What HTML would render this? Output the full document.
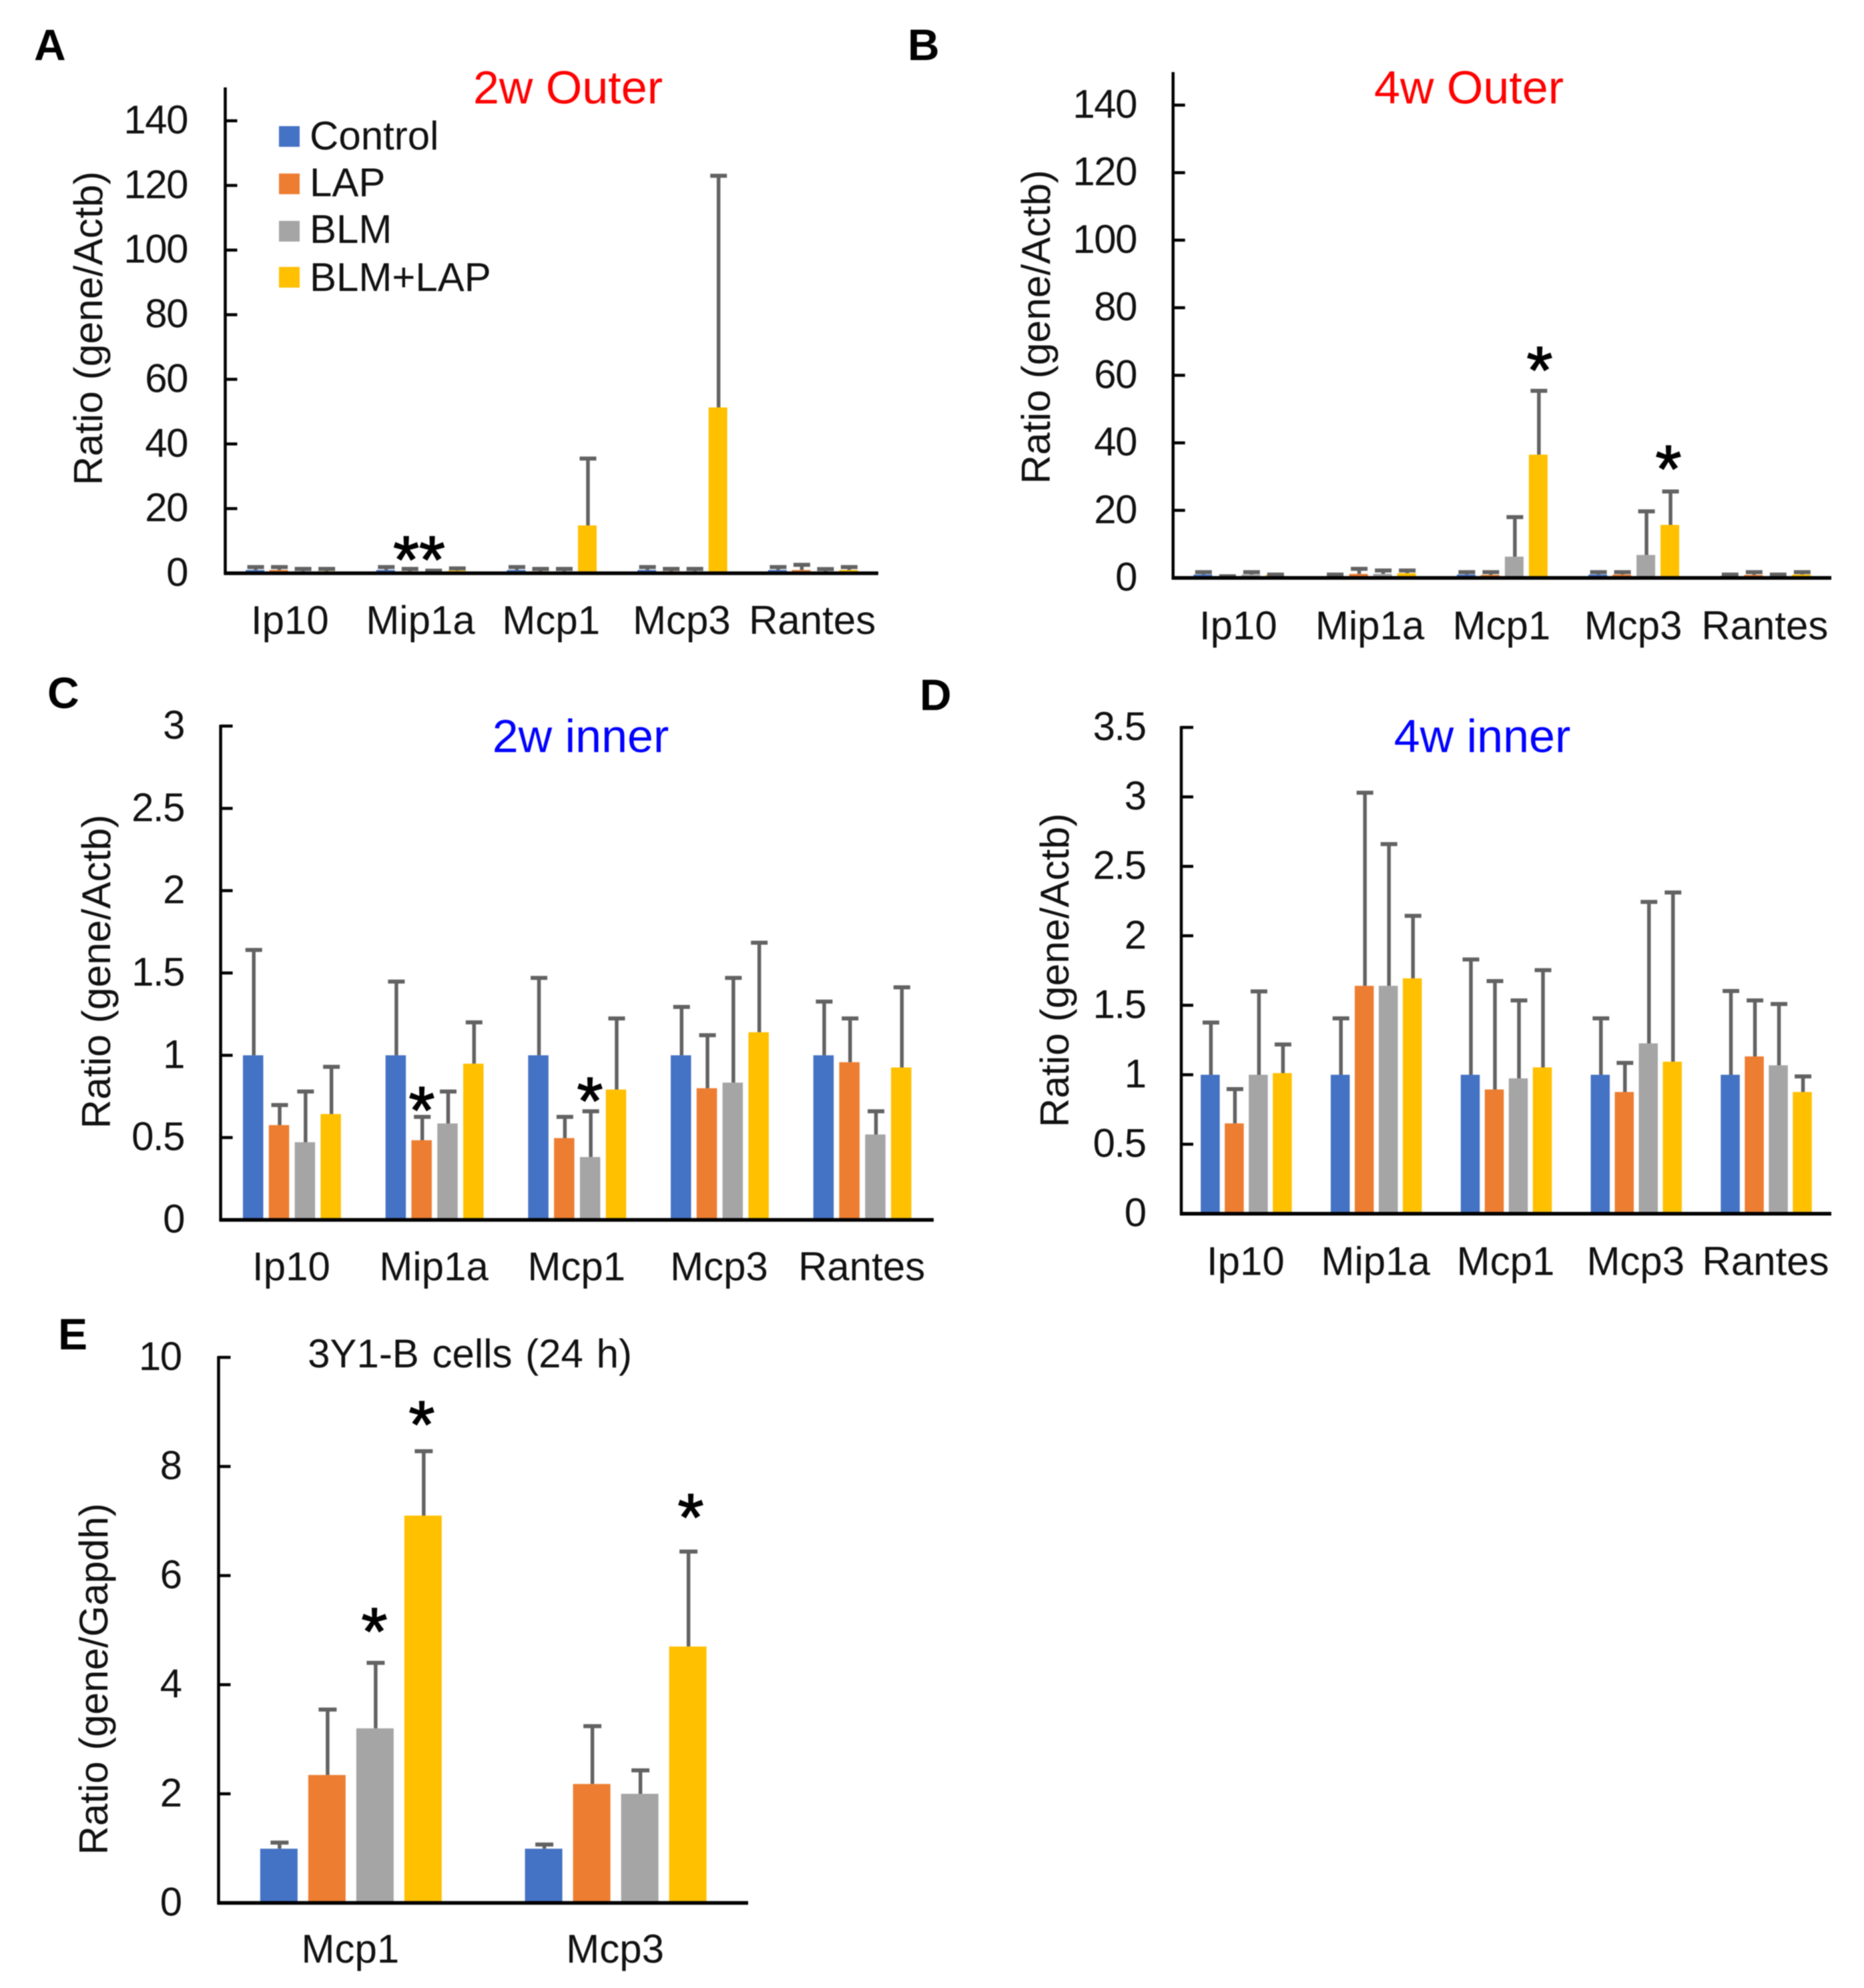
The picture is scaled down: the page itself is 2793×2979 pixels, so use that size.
<!DOCTYPE html>
<html lang="en">
<head>
<meta charset="utf-8">
<title>Chemokine expression ratios</title>
<style>
  html, body { margin: 0; padding: 0; background: #ffffff; }
  #figure { display: block; width: 2793px; height: 2979px; filter: blur(0.9px); font-family: "Liberation Sans", Arial, sans-serif; }
  text { font-family: "Liberation Sans", Arial, sans-serif; fill: #111111; }
  .star { fill: #000; stroke: #000; stroke-width: 1.6px; }
</style>
</head>
<body>
<svg id="figure" xmlns="http://www.w3.org/2000/svg" width="2793" height="2979" viewBox="0 0 2793 2979">
  <rect x="0" y="0" width="2793" height="2979" fill="#ffffff"/>

  <text x="51" y="90" font-size="66" font-weight="700" style="fill:#000">A</text>
  <text x="1360" y="90" font-size="66" font-weight="700" style="fill:#000">B</text>
  <text x="71" y="1061" font-size="66" font-weight="700" style="fill:#000">C</text>
  <text x="1378" y="1064" font-size="66" font-weight="700" style="fill:#000">D</text>
  <text x="87" y="2022" font-size="66" font-weight="700" style="fill:#000">E</text>

  <text x="851" y="155" font-size="70" text-anchor="middle" style="fill:#ff0000">2w Outer</text>
  <text x="2201" y="155" font-size="70" text-anchor="middle" style="fill:#ff0000">4w Outer</text>
  <text x="870" y="1127" font-size="70" text-anchor="middle" style="fill:#0000ff">2w inner</text>
  <text x="2221" y="1127" font-size="70" text-anchor="middle" style="fill:#0000ff">4w inner</text>
  <text x="704" y="2049" font-size="60" word-spacing="3" text-anchor="middle">3Y1-B cells (24 h)</text>

  <text font-size="60.5" text-anchor="middle" transform="translate(153 492) rotate(-90)">Ratio (gene/Actb)</text>
  <text font-size="60.5" text-anchor="middle" transform="translate(1573 490) rotate(-90)">Ratio (gene/Actb)</text>
  <text font-size="60.5" text-anchor="middle" transform="translate(165 1456) rotate(-90)">Ratio (gene/Actb)</text>
  <text font-size="60.5" text-anchor="middle" transform="translate(1601 1454) rotate(-90)">Ratio (gene/Actb)</text>
  <text font-size="60" text-anchor="middle" transform="translate(161 2516) rotate(-90)">Ratio (gene/Gapdh)</text>

  <g id="charts"></g>

  <g>
    <rect x="418" y="189" width="31" height="31" fill="#4472C4"/>
    <text x="464" y="224" font-size="60">Control</text>
    <rect x="418" y="260" width="31" height="31" fill="#ED7D31"/>
    <text x="464" y="294" font-size="60">LAP</text>
    <rect x="418" y="331" width="31" height="31" fill="#A5A5A5"/>
    <text x="464" y="364" font-size="60">BLM</text>
    <rect x="418" y="400" width="31" height="31" fill="#FFC000"/>
    <text x="464" y="436" font-size="60">BLM+LAP</text>
  </g>

  <text class="star" x="628" y="873" font-size="100" text-anchor="middle">**</text>
  <text class="star" x="2307" y="589" font-size="100" text-anchor="middle">*</text>
  <text class="star" x="2500" y="737" font-size="100" text-anchor="middle">*</text>
  <text class="star" x="632" y="1698" font-size="100" text-anchor="middle">*</text>
  <text class="star" x="884" y="1684" font-size="100" text-anchor="middle">*</text>
  <text class="star" x="561" y="2479" font-size="100" text-anchor="middle">*</text>
  <text class="star" x="632" y="2169" font-size="100" text-anchor="middle">*</text>
  <text class="star" x="1035" y="2308" font-size="100" text-anchor="middle">*</text>
</svg>

<script>
// Shared categories and series names
const genes = ['Ip10', 'Mip1a', 'Mcp1', 'Mcp3', 'Rantes'];
const cellGenes = ['Mcp1', 'Mcp3'];
const seriesNames = ['control', 'lap', 'blm', 'blm-lap'];
const seriesColors = ['#4472C4', '#ED7D31', '#A5A5A5', '#FFC000'];

// Panel A: 2w Outer
const ticksA = ['0', '20', '40', '60', '80', '100', '120', '140'];
const aControl = [1, 1, 1, 1, 1];
const aLap = [1, 0.6, 0.6, 0.6, 1];
const aBlm = [0.6, 0.4, 0.6, 0.6, 0.5];
const aBlmLap = [0.6, 0.8, 14.8, 51.3, 1];
const aControlTop = [1.9, 1.9, 1.9, 1.9, 1.9];
const aLapTop = [1.9, 1.35, 1.35, 1.35, 2.6];
const aBlmTop = [1.35, 0.8, 1.35, 1.35, 1.3];
const aBlmLapTop = [1.35, 1.5, 35.5, 123, 1.9];

// Panel B: 4w Outer
const ticksB = ['0', '20', '40', '60', '80', '100', '120', '140'];
const bControl = [1, 0.5, 1, 1, 0.6];
const bLap = [0.3, 1.2, 0.9, 1, 0.9];
const bBlm = [1, 1.2, 6.3, 6.8, 0.5];
const bBlmLap = [0.9, 1.4, 36.5, 15.7, 1];
const bControlTop = [1.7, 1, 1.7, 1.7, 1];
const bLapTop = [0.5, 2.7, 1.7, 1.7, 1.7];
const bBlmTop = [1.7, 2.2, 18, 19.7, 1];
const bBlmLapTop = [1, 2.2, 55.4, 25.6, 1.7];

// Panel C: 2w inner
const ticksC = ['0', '0.5', '1', '1.5', '2', '2.5', '3'];
const cControl = [1, 1, 1, 1, 1];
const cLap = [0.576, 0.484, 0.497, 0.8, 0.958];
const cBlm = [0.472, 0.586, 0.382, 0.834, 0.519];
const cBlmLap = [0.643, 0.949, 0.792, 1.14, 0.926];
const cControlTop = [1.64, 1.448, 1.47, 1.294, 1.326];
const cLapTop = [0.698, 0.626, 0.626, 1.122, 1.224];
const cBlmTop = [0.78, 0.78, 0.66, 1.47, 0.66];
const cBlmLapTop = [0.93, 1.2, 1.224, 1.684, 1.413];

// Panel D: 4w inner
const ticksD = ['0', '0.5', '1', '1.5', '2', '2.5', '3', '3.5'];
const dControl = [1, 1, 1, 1, 1];
const dLap = [0.65, 1.64, 0.894, 0.876, 1.132];
const dBlm = [1, 1.64, 0.974, 1.226, 1.068];
const dBlmLap = [1.012, 1.694, 1.053, 1.094, 0.876];
const dControlTop = [1.376, 1.406, 1.83, 1.406, 1.603];
const dLapTop = [0.897, 3.03, 1.674, 1.085, 1.535];
const dBlmTop = [1.6, 2.66, 1.535, 2.244, 1.509];
const dBlmLapTop = [1.218, 2.144, 1.753, 2.312, 0.988];

// Panel E: 3Y1-B cells (24 h)
const ticksE = ['0', '2', '4', '6', '8', '10'];
const eControl = [0.994, 0.994];
const eLap = [2.345, 2.18];
const eBlm = [3.2, 2.0];
const eBlmLap = [7.1, 4.7];
const eControlTop = [1.105, 1.07];
const eLapTop = [3.545, 3.24];
const eBlmTop = [4.4, 2.43];
const eBlmLapTop = [8.28, 6.44];

const NS = 'http://www.w3.org/2000/svg';
const chartsRoot = document.getElementById('charts');

function mk(tag, parent) {
  const el = document.createElementNS(NS, tag);
  parent.appendChild(el);
  return el;
}

function drawPanel(cfg) {
  const panel = mk('g', chartsRoot);
  
  

  const tickMax = Number(cfg.ticks[cfg.ticks.length - 1]);
  const yScale = function (v) { return cfg.yBase - (v / tickMax) * (cfg.yBase - cfg.yMaxTick); };
  const band = (cfg.xEnd - cfg.xAxis) / cfg.categories.length;
  const xScale = function (g, s) {
    return cfg.xAxis + (g + 0.5) * band - (1.5 * cfg.barStep + cfg.barWidth / 2) + s * cfg.barStep;
  };

  cfg.series.forEach(function (values, s) {
    values.forEach(function (value, g) {
      const bar = mk('rect', panel);
      
      
      bar.setAttribute('x', xScale(g, s));
      bar.setAttribute('y', yScale(value));
      bar.setAttribute('width', cfg.barWidth);
      bar.setAttribute('height', cfg.yBase - yScale(value));
      bar.setAttribute('fill', seriesColors[s]);
    });
  });

  cfg.errorTops.forEach(function (tops, s) {
    tops.forEach(function (top, g) {
      const cx = xScale(g, s) + cfg.barWidth / 2 + 1;
      const stem = mk('line', panel);
      
      
      stem.setAttribute('x1', cx);
      stem.setAttribute('x2', cx);
      stem.setAttribute('y1', yScale(cfg.series[s][g]));
      stem.setAttribute('y2', yScale(top));
      stem.setAttribute('stroke', '#626262');
      stem.setAttribute('stroke-width', 5.5);
      const cap = mk('line', panel);
      
      
      cap.setAttribute('x1', cx - cfg.capHalf);
      cap.setAttribute('x2', cx + cfg.capHalf);
      cap.setAttribute('y1', yScale(top));
      cap.setAttribute('y2', yScale(top));
      cap.setAttribute('stroke', '#626262');
      cap.setAttribute('stroke-width', 6);
    });
  });

  const yAxis = mk('line', panel);
  
  
  yAxis.setAttribute('x1', cfg.xAxis);
  yAxis.setAttribute('x2', cfg.xAxis);
  yAxis.setAttribute('y1', cfg.yAxisTop);
  yAxis.setAttribute('y2', cfg.yBase + 2);
  yAxis.setAttribute('stroke', '#000');
  yAxis.setAttribute('stroke-width', 4.5);

  const xAxis = mk('line', panel);
  
  
  xAxis.setAttribute('x1', cfg.xAxis - 2);
  xAxis.setAttribute('x2', cfg.xEnd);
  xAxis.setAttribute('y1', cfg.yBase);
  xAxis.setAttribute('y2', cfg.yBase);
  xAxis.setAttribute('stroke', '#000');
  xAxis.setAttribute('stroke-width', 5.5);

  cfg.ticks.forEach(function (tick) {
    const y = yScale(Number(tick));
    if (Number(tick) !== 0) {
      const mark = mk('line', panel);
      
      
      mark.setAttribute('x1', cfg.xAxis);
      mark.setAttribute('x2', cfg.xAxis + 18);
      mark.setAttribute('y1', y);
      mark.setAttribute('y2', y);
      mark.setAttribute('stroke', '#000');
      mark.setAttribute('stroke-width', 4.5);
    }
    const label = mk('text', panel);
    
    
    label.setAttribute('x', cfg.tickLabelRight);
    label.setAttribute('y', y + 19);
    label.setAttribute('font-size', 60);
    label.setAttribute('letter-spacing', -1.5);
    label.setAttribute('text-anchor', 'end');
    label.textContent = tick;
  });

  cfg.categories.forEach(function (cat, g) {
    const label = mk('text', panel);
    
    
    label.setAttribute('x', cfg.xAxis + (g + 0.5) * band - 1);
    label.setAttribute('y', cfg.labelBaseline);
    label.setAttribute('font-size', 60);
    label.setAttribute('text-anchor', 'middle');
    label.textContent = cat;
  });
}

drawPanel({ id: 'a', categories: genes, ticks: ticksA,
  series: [aControl, aLap, aBlm, aBlmLap], errorTops: [aControlTop, aLapTop, aBlmTop, aBlmLapTop],
  xAxis: 337.5, xEnd: 1316, yBase: 859, yMaxTick: 181, yAxisTop: 131,
  barWidth: 28, barStep: 35.5, capHalf: 12.5, tickLabelRight: 281, labelBaseline: 950 });

drawPanel({ id: 'b', categories: genes, ticks: ticksB,
  series: [bControl, bLap, bBlm, bBlmLap], errorTops: [bControlTop, bLapTop, bBlmTop, bBlmLapTop],
  xAxis: 1757.7, xEnd: 2744, yBase: 866, yMaxTick: 157.5, yAxisTop: 108,
  barWidth: 28, barStep: 36, capHalf: 12.5, tickLabelRight: 1703, labelBaseline: 958 });

drawPanel({ id: 'c', categories: genes, ticks: ticksC,
  series: [cControl, cLap, cBlm, cBlmLap], errorTops: [cControlTop, cLapTop, cBlmTop, cBlmLapTop],
  xAxis: 330.6, xEnd: 1399, yBase: 1828, yMaxTick: 1088, yAxisTop: 1086,
  barWidth: 30.5, barStep: 38.8, capHalf: 12.5, tickLabelRight: 276, labelBaseline: 1918.6 });

drawPanel({ id: 'd', categories: genes, ticks: ticksD,
  series: [dControl, dLap, dBlm, dBlmLap], errorTops: [dControlTop, dLapTop, dBlmTop, dBlmLapTop],
  xAxis: 1770, xEnd: 2744, yBase: 1818.7, yMaxTick: 1090, yAxisTop: 1088,
  barWidth: 28.5, barStep: 36, capHalf: 12.5, tickLabelRight: 1716.6, labelBaseline: 1910.6 });

drawPanel({ id: 'e', categories: cellGenes, ticks: ticksE,
  series: [eControl, eLap, eBlm, eBlmLap], errorTops: [eControlTop, eLapTop, eBlmTop, eBlmLapTop],
  xAxis: 327.5, xEnd: 1121, yBase: 2851.5, yMaxTick: 2034, yAxisTop: 2032,
  barWidth: 56, barStep: 72, capHalf: 13.5, tickLabelRight: 271.6, labelBaseline: 2941 });
</script>
</body>
</html>
